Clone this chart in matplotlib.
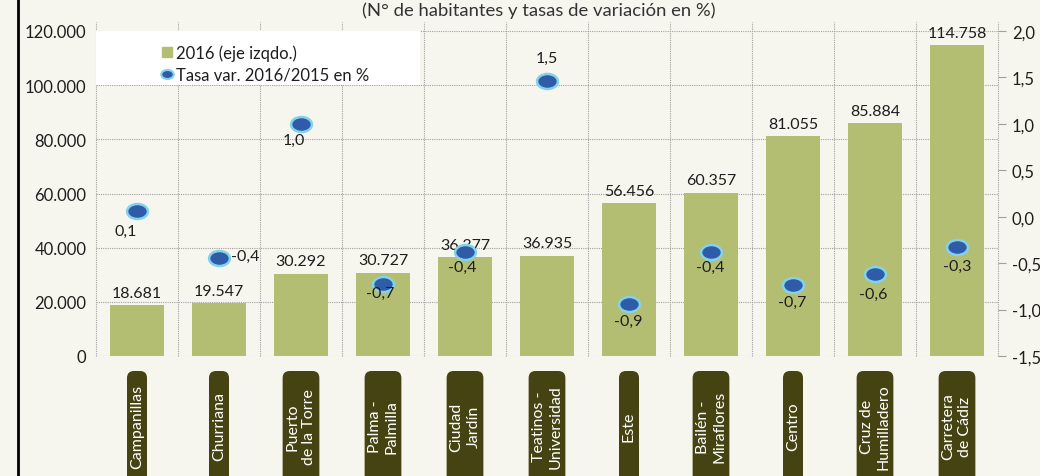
import numpy as np
import matplotlib
matplotlib.use("Agg")
import matplotlib.pyplot as plt
from matplotlib.path import Path
from matplotlib.patches import Rectangle, FancyBboxPatch
from matplotlib.lines import Line2D
import matplotlib.transforms as mtransforms

# ---------------- data ----------------
districts = ["Campanillas", "Churriana", "Puerto\nde la Torre", "Palma -\nPalmilla",
             "Ciudad\nJardín", "Teatinos -\nUniversidad", "Este", "Bailén -\nMiraflores",
             "Centro", "Cruz de\nHumilladero", "Carretera\nde Cádiz"]
population_2016 = [18681, 19547, 30292, 30727, 36377, 36935, 56456, 60357, 81055, 85884, 114758]
rate_2016_2015 = [0.06, -0.44, 1.0, -0.72, -0.38, 1.46, -0.94, -0.38, -0.74, -0.62, -0.33]
left_ticks = [0, 20000, 40000, 60000, 80000, 100000, 120000]
right_ticks = [-1.5, -1.0, -0.5, 0.0, 0.5, 1.0, 1.5, 2.0]
title = "(N° de habitantes y tasas de variación en %)"
legend_labels = ["2016 (eje izqdo.)", "Tasa var. 2016/2015 en %"]

# ---------------- style ----------------
W, H, DPI = 1040, 477, 100
BG = "#f7f6ee"
BAR = "#b4be72"
PT_FACE = "#2f5ba8"
PT_EDGE = "#82d2ec"
BOX = "#454311"
TXT = "#1e1e1e"
GRID = "#a0a0a0"
FONT = ["Lato", "DejaVu Sans"]
FS = 11.5
FS_TICK = 12
# point-label offsets in pixels (dx, dy; dy positive = downwards)
pt_offsets = [(-11, 20), (26, -2), (-7, 16), (-3, 9), (-3, 15), (0, -23),
              (-1, 17), (-1, 15), (-1, 16), (-2, 20), (0, 19)]

plt.rcParams["font.family"] = FONT

fig = plt.figure(figsize=(W / DPI, H / DPI), dpi=DPI, facecolor=BG)
ax = fig.add_axes([96 / W, 1 - 357 / H, (998 - 96) / W, (357 - 32) / H])
ax.set_facecolor(BG)

x = np.arange(len(districts))
bars = ax.bar(x, population_2016, width=0.66, color=BAR, zorder=2)
ax.set_xlim(-0.5, len(districts) - 0.5)
ax.set_ylim(0, 120000)
ax.set_yticks(left_ticks)
ax.set_yticklabels([f"{v:,}".replace(",", ".") for v in left_ticks], fontsize=FS_TICK, color=TXT)
ax.tick_params(axis="y", length=0, pad=7)
ax.set_xticks([])
ax.tick_params(axis="x", which="both", length=0, labelbottom=False)
ax.grid(True, axis="y", which="major", color=GRID, linestyle=(0, (1, 1)), linewidth=0.8, zorder=0)
for s in ax.spines.values():
    s.set_visible(False)

# vertical dotted separators (extend slightly above plot top)
vtrans = mtransforms.blended_transform_factory(ax.transData, ax.transAxes)
ax.vlines(np.arange(-0.5, len(districts), 1), 0, 1 + 9 / 325, transform=vtrans,
          colors=GRID, linestyles=[(0, (1, 1))], linewidth=0.8, clip_on=False, zorder=0)

# bar value labels
for xi, v in zip(x, population_2016):
    ax.annotate(f"{v:,}".replace(",", "."), (xi, v), xytext=(0, 4), textcoords="offset points",
                ha="center", va="bottom", fontsize=FS, color=TXT, zorder=3)

# secondary axis
ax2 = ax.twinx()
ax2.set_ylim(-1.5, 2.0)
ax2.set_yticks(right_ticks)
ax2.set_yticklabels([f"{v:.1f}".replace(".", ",") for v in right_ticks], fontsize=FS_TICK, color=TXT)
ax2.tick_params(axis="y", length=6, width=0.8, color=GRID, pad=4)
for s in ax2.spines.values():
    s.set_visible(False)

# ellipse marker
circ = Path.unit_circle()
ell = Path(circ.vertices * np.array([1.0, 0.72]), circ.codes)

ax2.plot(x, rate_2016_2015, linestyle="none", marker=ell, markersize=15,
         markerfacecolor=PT_FACE, markeredgecolor=PT_EDGE, markeredgewidth=1.8, zorder=4)
for xi, v, (dx, dy) in zip(x, rate_2016_2015, pt_offsets):
    ax2.annotate(f"{v:.1f}".replace(".", ","), (xi, v), xytext=(dx * 0.72, -dy * 0.72),
                 textcoords="offset points", ha="center", va="center",
                 fontsize=FS, color=TXT, zorder=5)

# legend (white panel)
ax2.add_patch(Rectangle((0, (357 - 86) / 325), (420 - 96) / 902, 1 - (357 - 86) / 325,
                        transform=ax2.transAxes, facecolor="white", edgecolor="none", zorder=1))
handles = [Line2D([], [], linestyle="none", marker="s", markersize=6.5, color=BAR),
           Line2D([], [], linestyle="none", marker=ell, markersize=9, markerfacecolor=PT_FACE,
                  markeredgecolor=PT_EDGE, markeredgewidth=1.5)]
leg = ax2.legend(handles, legend_labels, loc="upper left", bbox_to_anchor=(0.058, 1.0),
                 frameon=False, fontsize=FS_TICK, handlelength=0.7, handletextpad=0.15,
                 labelspacing=0.35, borderpad=0.3)
for t in leg.get_texts():
    t.set_color(TXT)

# title
fig.text(539 / W, 1 - 11 / H, title, ha="center", va="center", fontsize=13.3, color="#333333")

# left black rule
fig.add_artist(Line2D([18 / W, 18 / W], [0, 1], transform=fig.transFigure, color="black", linewidth=2))

# category labels in rounded boxes
blend = mtransforms.blended_transform_factory(ax.transData, fig.transFigure)
renderer = fig.canvas.get_renderer()
for xi, name in zip(x, districts):
    t = fig.text(xi, (H - 427) / H, name, transform=blend, rotation=90, ha="center", va="center",
                 multialignment="center", fontsize=FS, color="white", linespacing=1.25, zorder=6)
    ext = t.get_window_extent(renderer)
    pad = 3
    x0 = (ext.x0 - pad) / DPI
    wbox = (ext.width + 2 * pad) / DPI
    ytop = (H - 372) / DPI
    fig.add_artist(FancyBboxPatch((x0, -0.3), wbox, ytop + 0.3,
                                  boxstyle="round,pad=0,rounding_size=0.07",
                                  transform=fig.dpi_scale_trans, facecolor=BOX,
                                  edgecolor="none", zorder=5))

fig.savefig("out.png", dpi=DPI, facecolor=BG)
